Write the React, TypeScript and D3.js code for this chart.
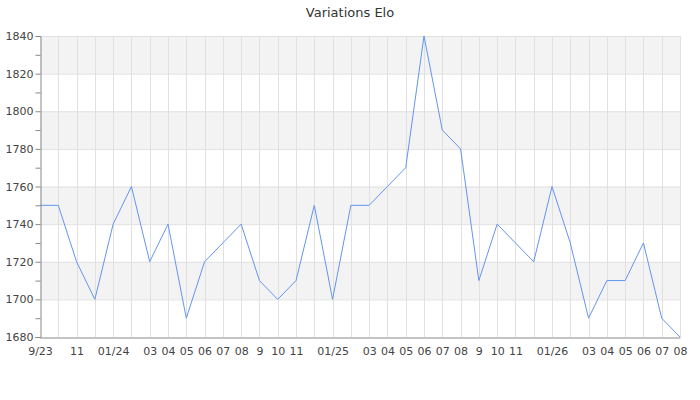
import React, { useEffect, useRef } from 'react';
import * as d3 from 'd3';

// x labels (blank where the original skipped a month label)
const tickLabels = [
  '9/23', '', '11', '', '01/24', '', '03', '04', '05', '06', '07', '08',
  '9', '10', '11', '', '01/25', '', '03', '04', '05', '06', '07', '08',
  '9', '10', '11', '', '01/26', '', '03', '04', '05', '06', '07', '08',
];

const eloValues = [
  1750, 1750, 1720, 1700, 1740, 1760, 1720, 1740, 1690, 1720, 1730, 1740,
  1710, 1700, 1710, 1750, 1700, 1750, 1750, 1760, 1770, 1840, 1790, 1780,
  1710, 1740, 1730, 1720, 1760, 1730, 1690, 1710, 1710, 1730, 1690, 1680,
];

const yDomain = [1680, 1840];

const EloChart: React.FC = () => {
  const chartRef = useRef<SVGSVGElement>(null);

  useEffect(() => {
    if (!chartRef.current) return;
    d3.select(chartRef.current).selectAll('*').remove();

    const margin = { top: 36, right: 20, bottom: 63, left: 40 };
    const width = 700 - margin.left - margin.right;
    const height = 400 - margin.top - margin.bottom;
    const font = 'DejaVu Sans, sans-serif';

    const svg = d3.select(chartRef.current)
      .append('g')
      .attr('transform', `translate(${margin.left},${margin.top})`);

    const x = d3.scalePoint<number>()
      .domain(d3.range(eloValues.length))
      .range([0, width]);

    const y = d3.scaleLinear()
      .domain(yDomain)
      .range([height, 0]);

    // Alternating bands, grey on top
    const bandTicks = d3.range(yDomain[0], yDomain[1], 20);
    svg.selectAll('rect.band')
      .data(bandTicks)
      .enter()
      .append('rect')
      .attr('class', 'band')
      .attr('x', 0)
      .attr('width', width)
      .attr('y', d => y(d + 20))
      .attr('height', d => y(d) - y(d + 20))
      .attr('fill', d => ((d - yDomain[0]) / 20) % 2 === 1 ? '#f3f3f3' : '#ffffff');

    // Horizontal grid
    svg.selectAll('line.hgrid')
      .data(d3.range(yDomain[0] + 20, yDomain[1] + 1, 20))
      .enter()
      .append('line')
      .attr('class', 'hgrid')
      .attr('x1', 0)
      .attr('x2', width)
      .attr('y1', d => y(d) + 0.5)
      .attr('y2', d => y(d) + 0.5)
      .attr('stroke', '#e0e0e0');

    // Vertical grid, one per point
    svg.selectAll('line.vgrid')
      .data(d3.range(1, eloValues.length))
      .enter()
      .append('line')
      .attr('class', 'vgrid')
      .attr('x1', d => Math.round(x(d) as number) + 0.5)
      .attr('x2', d => Math.round(x(d) as number) + 0.5)
      .attr('y1', 0)
      .attr('y2', height)
      .attr('stroke', '#e0e0e0');

    // Line
    const line = d3.line<number>()
      .x((_, i) => x(i) as number)
      .y(d => y(d));

    svg.append('path')
      .datum(eloValues)
      .attr('d', line)
      .attr('fill', 'none')
      .attr('stroke', '#6495ed')
      .attr('stroke-width', 1);

    // Y axis
    const yAxis = svg.append('g')
      .attr('transform', 'translate(0.5,0)')
      .call(d3.axisLeft(y).tickValues(d3.range(yDomain[0], yDomain[1] + 1, 10))
        .tickSize(5)
        .tickFormat(d => ((+d) % 20 === 0 ? String(d) : '')));
    yAxis.select('.domain').attr('stroke', '#888');
    yAxis.selectAll('.tick line').attr('stroke', '#888');
    yAxis.selectAll('.tick text')
      .attr('fill', '#444')
      .attr('font-family', font)
      .attr('font-size', '11px')
      .attr('x', -7);

    // X axis
    const xAxis = svg.append('g')
      .attr('transform', `translate(0,${height + 0.5})`)
      .call(d3.axisBottom(x).tickSize(0).tickFormat(i => tickLabels[i as number]));
    xAxis.select('.domain').attr('stroke', '#888');
    xAxis.selectAll('.tick text')
      .attr('fill', '#444')
      .attr('font-family', font)
      .attr('font-size', '11px')
      .attr('dy', '1.05em')
      .attr('y', 6);

    // Title
    d3.select(chartRef.current)
      .append('text')
      .attr('x', 350)
      .attr('y', 17)
      .attr('text-anchor', 'middle')
      .attr('font-family', font)
      .attr('font-size', '13px')
      .attr('fill', '#333')
      .text('Variations Elo');
  }, []);

  return <svg ref={chartRef} width={700} height={400} style={{ display: 'block' }}></svg>;
};

export default function App() {
  return (
    <div style={{ position: 'absolute', left: 0, top: 0 }}>
      <EloChart />
    </div>
  );
}
